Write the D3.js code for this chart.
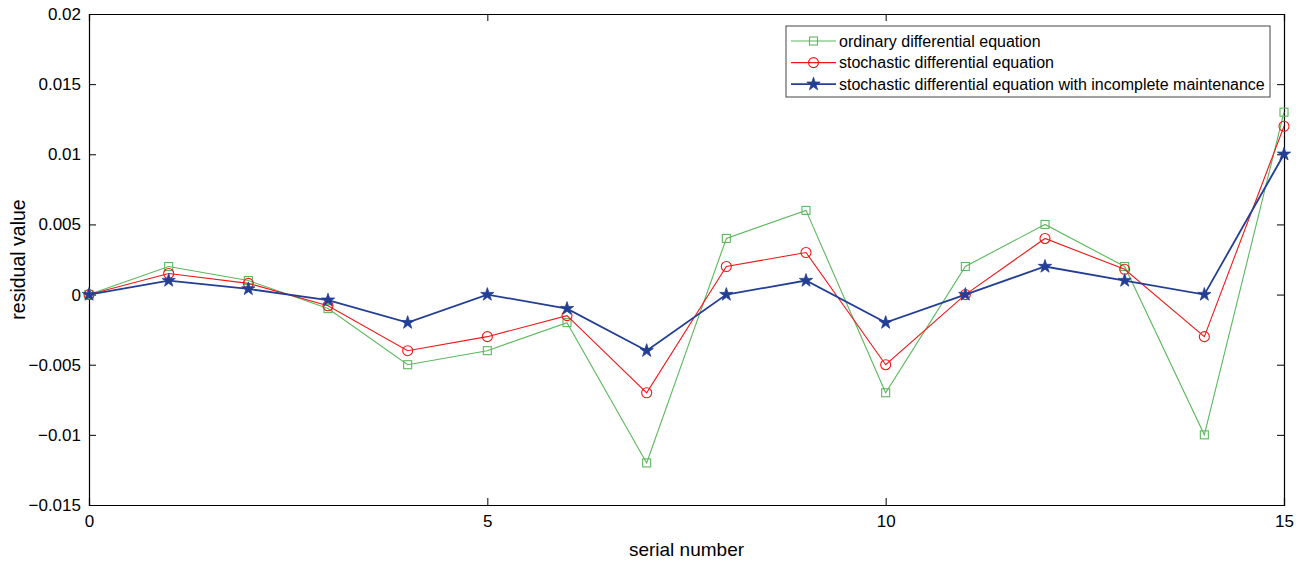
<!DOCTYPE html>
<html>
<head>
<meta charset="utf-8">
<script src="https://cdn.jsdelivr.net/npm/d3@7"></script>
<style>
  body { margin: 0; background: #fff; }
  text { font-family: Arial, "Liberation Sans", sans-serif; }
</style>
</head>
<body>
<div id="chart"></div>
<script>
// data
var serial = d3.range(0, 16);
var odeValues = [0, 0.002, 0.001, -0.001, -0.005, -0.004, -0.002, -0.012, 0.004, 0.006, -0.007, 0.002, 0.005, 0.002, -0.010, 0.013];
var sdeValues = [0, 0.0015, 0.0008, -0.0008, -0.004, -0.003, -0.0015, -0.007, 0.002, 0.003, -0.005, 0, 0.004, 0.0018, -0.003, 0.012];
var sdeImValues = [0, 0.001, 0.0004, -0.0004, -0.002, 0, -0.001, -0.004, 0, 0.001, -0.002, 0, 0.002, 0.001, 0, 0.010];
var xTicks = [0, 5, 10, 15];
var yTicks = [-0.015, -0.01, -0.005, 0, 0.005, 0.01, 0.015, 0.02];
var seriesNames = ["ordinary differential equation", "stochastic differential equation", "stochastic differential equation with incomplete maintenance"];

// set the dimensions and margins of the graph
var margin = {top: 14, right: 19, bottom: 57, left: 89},
    width = 1303 - margin.left - margin.right,
    height = 562 - margin.top - margin.bottom;

const svg = d3.select("#chart")
  .append("svg")
  .attr("width", 1303)
  .attr("height", 562);

const g = svg.append("g")
  .attr("transform", `translate(${margin.left},${margin.top})`);

var x = d3.scaleLinear().domain([0, 15]).range([0, width]);
var y = d3.scaleLinear().domain([-0.015, 0.02]).range([height, 0]);

var fmt = function(d) { return d === 0 ? "0" : d3.format("")(+d.toFixed(3)); };

// axes (ticks point inward like matlab)
g.append("g")
  .attr("transform", "translate(0," + height + ")")
  .call(d3.axisBottom(x).tickValues(xTicks).tickSize(-7).tickPadding(10).tickFormat(d3.format("d")));
g.append("g")
  .call(d3.axisTop(x).tickValues(xTicks).tickSize(-7).tickFormat(""));
g.append("g")
  .call(d3.axisLeft(y).tickValues(yTicks).tickSize(-7).tickPadding(8).tickFormat(fmt));
g.append("g")
  .attr("transform", "translate(" + width + ",0)")
  .call(d3.axisRight(y).tickValues(yTicks).tickSize(-7).tickFormat(""));

g.selectAll(".domain").attr("stroke", "#000").attr("stroke-width", 1.2);
g.selectAll(".tick line").attr("stroke", "#000");
g.selectAll(".tick text").attr("font-size", "17px").attr("fill", "#000")
  .style("font-family", "Arial, 'Liberation Sans', sans-serif");

// axis labels
svg.append("text")
  .attr("x", margin.left + width / 2)
  .attr("y", 556)
  .attr("text-anchor", "middle")
  .attr("font-size", "19px")
  .text("serial number");

svg.append("text")
  .attr("transform", "translate(25," + (margin.top + height / 2) + ") rotate(-90)")
  .attr("text-anchor", "middle")
  .attr("font-size", "19.5px")
  .text("residual value");

var series = [
  {name: seriesNames[0], values: odeValues, color: "#5cb85c", width: 1.1, marker: "square"},
  {name: seriesNames[1], values: sdeValues, color: "#f01818", width: 1.1, marker: "circle"},
  {name: seriesNames[2], values: sdeImValues, color: "#233f94", width: 1.8, marker: "star"}
];

var line = d3.line()
  .x(function(d, i) { return x(serial[i]); })
  .y(function(d) { return y(d); });

function drawMarker(sel, kind, color) {
  if (kind === "square") {
    sel.append("rect")
      .attr("x", -4).attr("y", -4).attr("width", 8).attr("height", 8)
      .attr("fill", "none").attr("stroke", color).attr("stroke-width", 1.1);
  } else if (kind === "circle") {
    sel.append("circle")
      .attr("r", 5)
      .attr("fill", "none").attr("stroke", color).attr("stroke-width", 1.1);
  } else {
    sel.append("path")
      .attr("d", d3.symbol().type(d3.symbolStar).size(55)())
      .attr("fill", color).attr("stroke", color).attr("stroke-width", 0.8);
  }
}

series.forEach(function(s) {
  g.append("path")
    .datum(s.values)
    .attr("fill", "none")
    .attr("stroke", s.color)
    .attr("stroke-width", s.width)
    .attr("d", line);

  g.selectAll(".m-" + s.marker)
    .data(s.values)
    .join("g")
    .attr("class", "m-" + s.marker)
    .attr("transform", function(d, i) { return "translate(" + x(serial[i]) + "," + y(d) + ")"; })
    .each(function() { drawMarker(d3.select(this), s.marker, s.color); });
});

// legend
var legend = svg.append("g").attr("transform", "translate(786,26)");
legend.append("rect")
  .attr("width", 484).attr("height", 71)
  .attr("fill", "#fff").attr("stroke", "#444").attr("stroke-width", 1);

series.forEach(function(s, i) {
  var ly = 15 + i * 21.6;
  legend.append("line")
    .attr("x1", 5).attr("x2", 50).attr("y1", ly).attr("y2", ly)
    .attr("stroke", s.color).attr("stroke-width", s.width);
  var mk = legend.append("g").attr("transform", "translate(27.5," + ly + ")");
  drawMarker(mk, s.marker, s.color);
  legend.append("text")
    .attr("x", 53).attr("y", ly + 5.5)
    .attr("font-size", "16px")
    .text(s.name);
});
</script>
</body>
</html>
